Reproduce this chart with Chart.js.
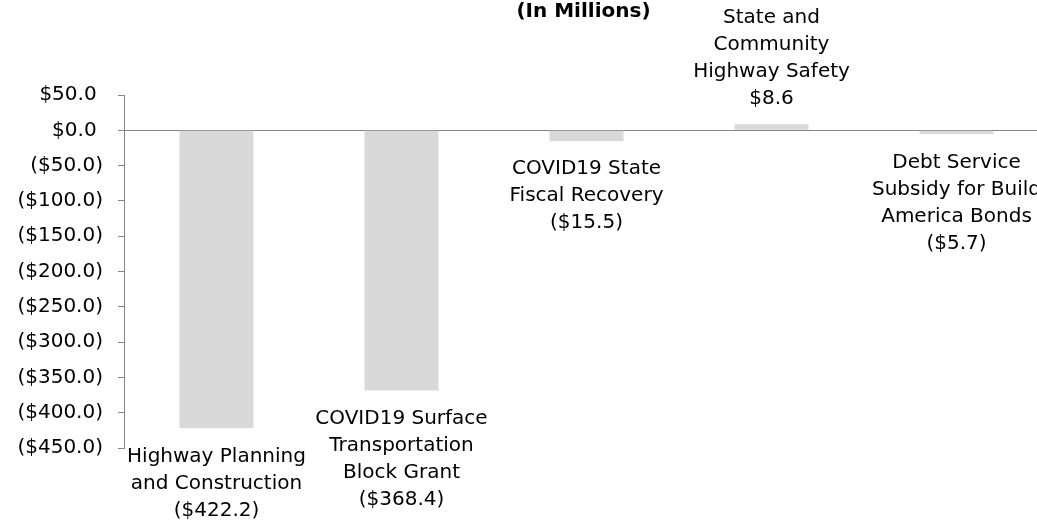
<!DOCTYPE html>
<html>
<head>
<meta charset="utf-8">
<script src="https://cdn.jsdelivr.net/npm/chart.js@4"></script>
<style>
    html, body { margin: 0; padding: 0; overflow: hidden; background: #fff; }
    #wrap { width: 1049px; height: 524px; position: relative; }
</style>
</head>
<body>
<div id="wrap"><canvas id="fundChart"></canvas></div>
<script>
// --- Data ---
const categories = [
    ['Highway Planning', 'and Construction'],
    ['COVID19 Surface', 'Transportation', 'Block Grant'],
    ['COVID19 State', 'Fiscal Recovery'],
    ['State and', 'Community', 'Highway Safety'],
    ['Debt Service', 'Subsidy for Build', 'America Bonds']
];
const changes = [-422.2, -368.4, -15.5, 8.6, -5.7];
const yTicks = [50, 0, -50, -100, -150, -200, -250, -300, -350, -400, -450];
const titleText = '(In Millions)';

// --- Helpers ---
const money = (v) => v < 0 ? '($' + Math.abs(v).toFixed(1) + ')' : '$' + v.toFixed(1);
const FONT = '"DejaVu Sans", sans-serif';

// draws the category name + value next to the end of each bar
const barLabels = {
    id: 'barLabels',
    afterDatasetsDraw(chart) {
        const ctx = chart.ctx;
        const meta = chart.getDatasetMeta(0);
        ctx.save();
        ctx.font = '20px ' + FONT;
        ctx.fillStyle = '#000';
        ctx.textAlign = 'center';
        ctx.textBaseline = 'middle';
        const lineH = 27;
        meta.data.forEach((bar, i) => {
            const v = changes[i];
            const lines = categories[i].concat([money(v)]);
            if (v < 0) {
                lines.forEach((t, k) => ctx.fillText(t, bar.x, bar.y + 28 + k * lineH));
            } else {
                const n = lines.length;
                lines.forEach((t, k) => ctx.fillText(t, bar.x, bar.y - 25 - (n - 1 - k) * lineH));
            }
        });
        ctx.restore();
    }
};

const topTitle = {
    id: 'topTitle',
    afterDraw(chart) {
        const ctx = chart.ctx;
        const a = chart.chartArea;
        ctx.save();
        ctx.font = 'bold 20px ' + FONT;
        ctx.fillStyle = '#000';
        ctx.textAlign = 'center';
        ctx.textBaseline = 'middle';
        ctx.fillText(titleText, (a.left + a.right) / 2 - 3, 12);
        ctx.restore();
    }
};

new Chart(document.getElementById('fundChart'), {
    type: 'bar',
    data: {
        labels: categories.map(c => c.join(' ')),
        datasets: [{
            data: changes,
            backgroundColor: '#d9d9d9',
            borderWidth: 0,
            categoryPercentage: 1,
            barPercentage: 0.4
        }]
    },
    options: {
        responsive: true,
        maintainAspectRatio: false,
        animation: false,
        layout: { padding: { top: 95, bottom: 76, left: 0, right: 0 } },
        plugins: {
            legend: { display: false },
            tooltip: { enabled: false },
            title: { display: false }
        },
        scales: {
            x: { display: false },
            y: {
                min: -450,
                max: 50,
                afterBuildTicks: (scale) => { scale.ticks = yTicks.map(v => ({ value: v })); },
                afterFit: (scale) => { scale.width = 124; },
                border: { display: true, color: '#868686', width: 1 },
                grid: {
                    drawOnChartArea: true,
                    color: (c) => c.tick && c.tick.value === 0 ? '#868686' : 'rgba(0,0,0,0)',
                    tickColor: '#868686',
                    tickLength: 6,
                    lineWidth: 1
                },
                ticks: {
                    padding: 15,
                    color: '#000',
                    font: { family: 'DejaVu Sans', size: 20 },
                    callback: (v) => v < 0 ? money(v) : money(v) + ' '
                }
            }
        }
    },
    plugins: [barLabels, topTitle]
});
</script>
</body>
</html>
